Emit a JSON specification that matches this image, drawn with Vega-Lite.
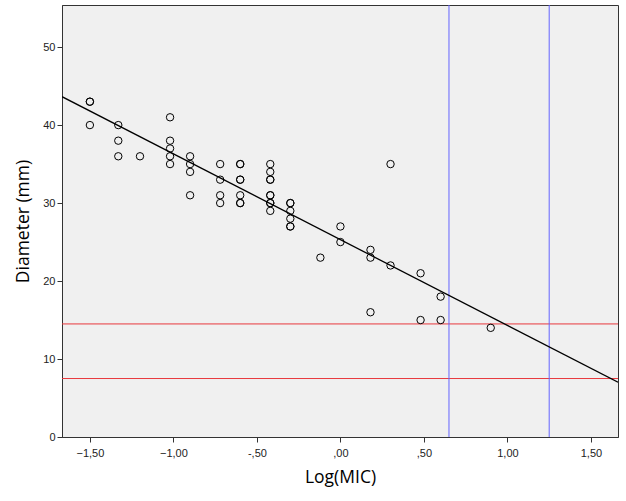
{
  "$schema": "https://vega.github.io/schema/vega-lite/v6.json",
  "autosize": "none",
  "width": 556,
  "height": 432,
  "padding": {"left": 62, "top": 5, "right": 8, "bottom": 64},
  "background": "white",
  "config": {
    "view": {"fill": "#F0F0F0", "stroke": "#333333", "strokeWidth": 1},
    "axis": {"grid": false, "domainColor": "#333333", "tickColor": "#333333", "labelFont": "Liberation Sans", "labelFontSize": 11, "labelColor": "#222222", "titleFont": "Open Sans", "titleFontSize": 17.5, "titleFontWeight": "normal", "titleColor": "#000000", "tickSize": 5}
  },
  "datasets": {
    "points": [
      {"logmic": -1.50, "diameter": 43}, {"logmic": -1.50, "diameter": 43}, {"logmic": -1.50, "diameter": 40},
      {"logmic": -1.33, "diameter": 40}, {"logmic": -1.33, "diameter": 38}, {"logmic": -1.33, "diameter": 36},
      {"logmic": -1.20, "diameter": 36},
      {"logmic": -1.02, "diameter": 41}, {"logmic": -1.02, "diameter": 38}, {"logmic": -1.02, "diameter": 37}, {"logmic": -1.02, "diameter": 36}, {"logmic": -1.02, "diameter": 35},
      {"logmic": -0.90, "diameter": 36}, {"logmic": -0.90, "diameter": 35}, {"logmic": -0.90, "diameter": 34}, {"logmic": -0.90, "diameter": 31},
      {"logmic": -0.72, "diameter": 35}, {"logmic": -0.72, "diameter": 33}, {"logmic": -0.72, "diameter": 31}, {"logmic": -0.72, "diameter": 30},
      {"logmic": -0.60, "diameter": 35}, {"logmic": -0.60, "diameter": 35}, {"logmic": -0.60, "diameter": 33}, {"logmic": -0.60, "diameter": 33}, {"logmic": -0.60, "diameter": 31}, {"logmic": -0.60, "diameter": 30}, {"logmic": -0.60, "diameter": 30},
      {"logmic": -0.42, "diameter": 35}, {"logmic": -0.42, "diameter": 34}, {"logmic": -0.42, "diameter": 33}, {"logmic": -0.42, "diameter": 33}, {"logmic": -0.42, "diameter": 31}, {"logmic": -0.42, "diameter": 31}, {"logmic": -0.42, "diameter": 30}, {"logmic": -0.42, "diameter": 30}, {"logmic": -0.42, "diameter": 29},
      {"logmic": -0.30, "diameter": 30}, {"logmic": -0.30, "diameter": 30}, {"logmic": -0.30, "diameter": 29}, {"logmic": -0.30, "diameter": 28}, {"logmic": -0.30, "diameter": 27}, {"logmic": -0.30, "diameter": 27},
      {"logmic": -0.12, "diameter": 23},
      {"logmic": 0.00, "diameter": 27}, {"logmic": 0.00, "diameter": 25},
      {"logmic": 0.18, "diameter": 24}, {"logmic": 0.18, "diameter": 23}, {"logmic": 0.18, "diameter": 16},
      {"logmic": 0.30, "diameter": 35}, {"logmic": 0.30, "diameter": 22},
      {"logmic": 0.48, "diameter": 21}, {"logmic": 0.48, "diameter": 15},
      {"logmic": 0.60, "diameter": 18}, {"logmic": 0.60, "diameter": 15},
      {"logmic": 0.90, "diameter": 14}
    ],
    "fit": [{"logmic": -1.667, "diameter": 43.64}, {"logmic": 1.662, "diameter": 7.03}],
    "vlines": [{"logmic": 0.65}, {"logmic": 1.25}],
    "hlines": [{"diameter": 14.5}, {"diameter": 7.5}]
  },
  "encoding": {
    "x": {"field": "logmic", "type": "quantitative", "scale": {"domain": [-1.667, 1.662], "nice": false, "zero": false},
      "axis": {"values": [-1.5, -1, -0.5, 0, 0.5, 1, 1.5], "title": "Log(MIC)", "titlePadding": 10, "labelPadding": 5,
        "labelExpr": "datum.value == 0 ? ',00' : datum.value == 0.5 ? ',50' : datum.value == -0.5 ? '-,50' : replace(format(datum.value, '.2f'), '.', ',')"}},
    "y": {"field": "diameter", "type": "quantitative", "scale": {"domain": [0, 55.4], "nice": false},
      "axis": {"values": [0, 10, 20, 30, 40, 50], "title": "Diameter (mm)", "titlePadding": 10, "labelPadding": 2}}
  },
  "layer": [
    {"data": {"name": "hlines"}, "mark": {"type": "rule", "color": "#E8383D", "strokeWidth": 1}, "encoding": {"x": null}},
    {"data": {"name": "vlines"}, "mark": {"type": "rule", "color": "#6464FF", "strokeWidth": 1}, "encoding": {"y": null}},
    {"data": {"name": "fit"}, "mark": {"type": "line", "color": "#000000", "strokeWidth": 1.3, "clip": true}, "encoding": {}},
    {"data": {"name": "points"}, "mark": {"type": "point", "shape": "circle", "filled": false, "color": "#000000", "strokeWidth": 1, "size": 55, "opacity": 1}, "encoding": {}}
  ]
}
